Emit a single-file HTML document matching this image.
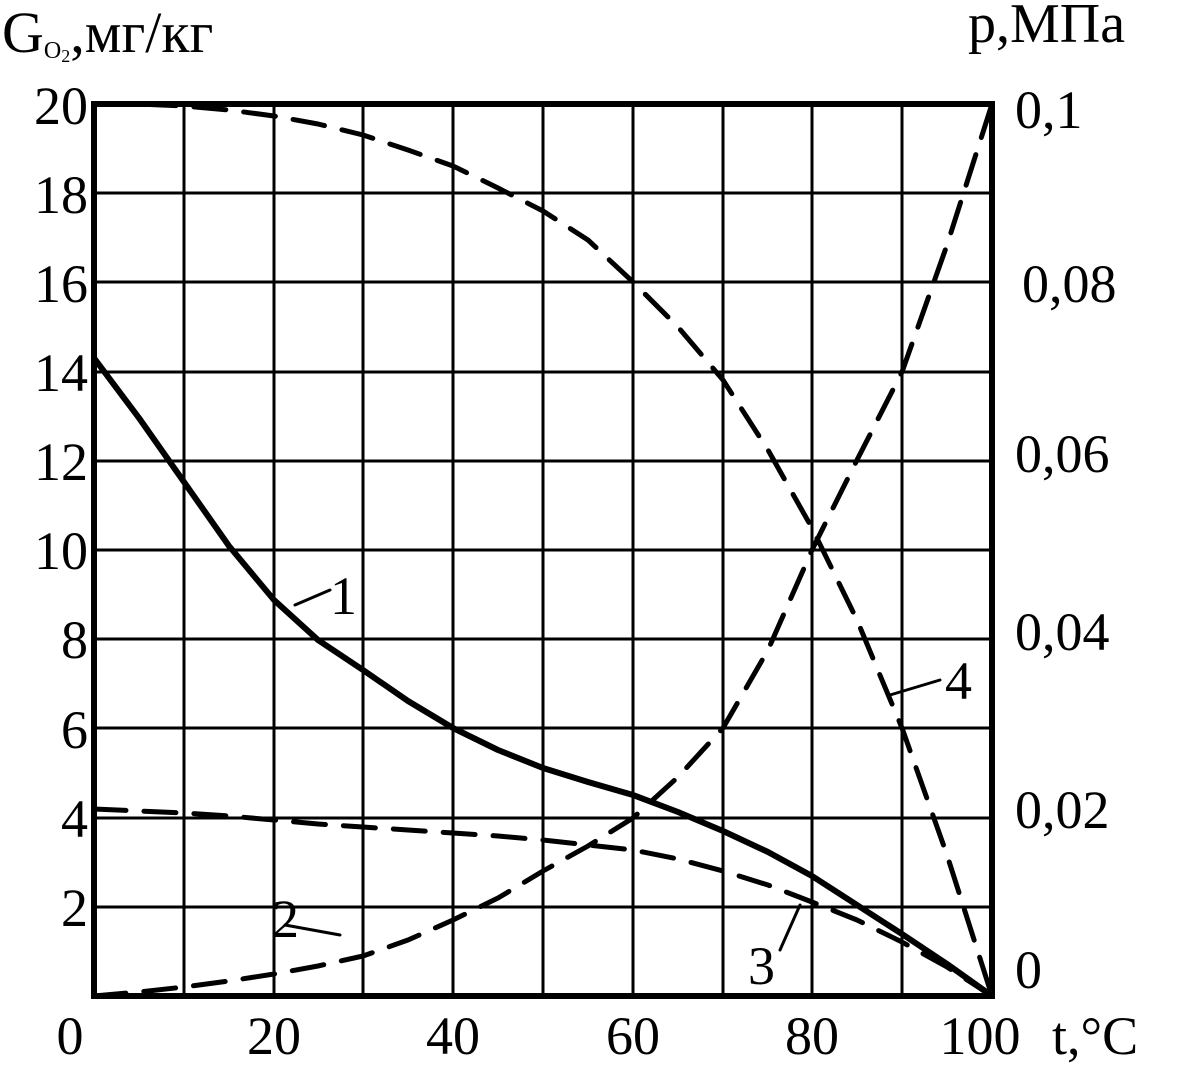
<!DOCTYPE html>
<html><head><meta charset="utf-8"><style>body{margin:0;background:#fff}</style></head><body>
<svg width="1186" height="1066" xmlns="http://www.w3.org/2000/svg" font-family="Liberation Serif, serif" font-size="54">
<rect width="1186" height="1066" fill="#fff"/>
<g stroke="#000" stroke-width="3" fill="none">
<path d="M184 104V996M274 104V996M363 104V996M453 104V996M543 104V996M633 104V996M723 104V996M812 104V996M902 104V996"/>
<path d="M94 193H992M94 282H992M94 372H992M94 461H992M94 550H992M94 639H992M94 728H992M94 818H992M94 907H992"/>
</g>
<rect x="94" y="104" width="898" height="892" fill="none" stroke="#000" stroke-width="6"/>
<g fill="none" stroke="#000" stroke-linecap="round" stroke-linejoin="round">
<polyline stroke-width="6" points="94,358 139,418 184,482 229,546 274,600 318,640 363,670 408,701 453,728 498,750 543,768 588,782 633,795 678,812 723,831 768,852 812,876 857,905 902,934 947,964 992,996"/>
<polyline stroke-width="5" stroke-dasharray="32,18" points="94,996 139,992 184,987 229,981 274,974 318,966 363,956 408,940 453,920 498,898 543,871 588,846 633,818 678,777 723,728 768,650 812,550 857,460 902,372 947,245 992,104"/>
<polyline stroke-width="5" stroke-dasharray="32,18" points="94,809 139,811 184,813 229,816 274,820 318,824 363,827 408,830 453,833 498,836 543,840 588,845 633,850 678,859 723,871 768,885 812,902 857,920 902,942 947,967 992,996"/>
<polyline stroke-width="5" stroke-dasharray="32,18" points="94,104 139,104 184,106 229,110 274,116 318,124 363,135 408,150 453,166 498,188 543,211 588,240 633,282 678,327 723,380 768,450 812,528 857,620 902,728 947,855 992,996"/>
<path stroke-width="3" d="M295 605L330 590M285 925L340 935M780 950L800 905M940 680L890 695"/>
</g>
<g>
<text x="330" y="614">1</text>
<text x="272" y="937">2</text>
<text x="748" y="984">3</text>
<text x="945" y="699">4</text>
</g>
<g text-anchor="end">
<text x="88" y="124">20</text><text x="88" y="213">18</text><text x="88" y="302">16</text><text x="88" y="391">14</text><text x="88" y="480">12</text><text x="88" y="569">10</text><text x="88" y="658">8</text><text x="88" y="748">6</text><text x="88" y="837">4</text><text x="88" y="926">2</text>
</g>
<g>
<text x="1015" y="128">0,1</text><text x="1022" y="302">0,08</text><text x="1015" y="472">0,06</text><text x="1015" y="650">0,04</text><text x="1015" y="828">0,02</text><text x="1015" y="988">0</text>
</g>
<g text-anchor="middle">
<text x="70" y="1054">0</text><text x="274" y="1054">20</text><text x="453" y="1054">40</text><text x="633" y="1054">60</text><text x="812" y="1054">80</text><text x="980" y="1054">100</text>
</g>
<text x="1052" y="1054">t,°C</text>
<text x="2" y="52" font-size="58">G<tspan font-size="24" dy="6">O</tspan><tspan font-size="18" dy="4">2</tspan><tspan dy="-10">,мг/кг</tspan></text>
<text x="968" y="42" font-size="56">p,МПа</text>
</svg>
</body></html>
